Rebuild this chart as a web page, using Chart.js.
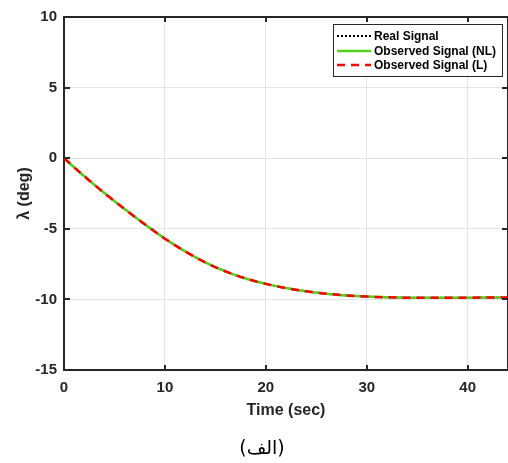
<!DOCTYPE html>
<html>
<head>
<meta charset="utf-8">
<script src="https://cdn.jsdelivr.net/npm/chart.js@4/dist/chart.umd.min.js"></script>
<style>
html,body{margin:0;padding:0;background:#fff;}
#wrap{position:relative;width:508px;height:463px;}
</style>
</head>
<body>
<div id="wrap"><canvas id="c" width="508" height="463"></canvas></div>
<script>
const time = [0,2,4,6,8,10,12,14,16,18,20,22,24,26,28,30,32,34,36,38,40,42,44];
const realSignal = [0,-1.27,-2.47,-3.6,-4.68,-5.7,-6.6,-7.38,-8.02,-8.52,-8.9,-9.2,-9.43,-9.6,-9.72,-9.8,-9.85,-9.88,-9.89,-9.89,-9.88,-9.87,-9.86];
const observedNL = [0,-1.27,-2.47,-3.6,-4.68,-5.7,-6.6,-7.38,-8.02,-8.52,-8.9,-9.2,-9.43,-9.6,-9.72,-9.8,-9.85,-9.88,-9.89,-9.89,-9.88,-9.87,-9.86];
const observedL = [0,-1.27,-2.47,-3.6,-4.68,-5.7,-6.6,-7.38,-8.02,-8.52,-8.9,-9.2,-9.43,-9.6,-9.72,-9.8,-9.85,-9.88,-9.89,-9.89,-9.88,-9.87,-9.86];
const seriesNames = ['Real Signal','Observed Signal (NL)','Observed Signal (L)'];
const xTicks = [0,10,20,30,40];
const yTicks = [-15,-10,-5,0,5,10];
const xTitle = 'Time (sec)';
const yTitle = 'λ (deg)';
const caption = '(الف)';

const toXY = arr => arr.map((v,i)=>({x:time[i], y:v}));
const FONT = '"Liberation Sans", Arial, sans-serif';

const extras = {
  id:'extras',
  afterDraw(chart){
    const ctx = chart.ctx;
    const ca = chart.chartArea;
    const xs = chart.scales.x, ys = chart.scales.y;
    ctx.save();
    // top and right box lines
    ctx.strokeStyle = '#262626';
    ctx.lineWidth = 2;
    ctx.beginPath();
    ctx.moveTo(ca.left, ca.top); ctx.lineTo(ca.right, ca.top);
    ctx.moveTo(ca.right, ca.top); ctx.lineTo(ca.right, ca.bottom);
    ctx.stroke();
    // inward ticks
    ctx.lineWidth = 2;
    ctx.beginPath();
    xTicks.forEach(v=>{
      const px = Math.round(xs.getPixelForValue(v));
      ctx.moveTo(px, ca.bottom); ctx.lineTo(px, ca.bottom-5);
      ctx.moveTo(px, ca.top); ctx.lineTo(px, ca.top+5);
    });
    yTicks.forEach(v=>{
      const py = Math.round(ys.getPixelForValue(v));
      ctx.moveTo(ca.left, py); ctx.lineTo(ca.left+6, py);
      ctx.moveTo(ca.right, py); ctx.lineTo(ca.right-6, py);
    });
    ctx.stroke();
    // legend
    const lx = 333, ly = 24, lw = 169, lh = 52;
    ctx.fillStyle = '#fff';
    ctx.fillRect(lx, ly, lw, lh);
    ctx.strokeStyle = '#262626';
    ctx.lineWidth = 1;
    ctx.strokeRect(lx+0.5, ly+0.5, lw, lh);
    const rows = [36, 51, 65];
    const ds = chart.data.datasets;
    ctx.font = 'bold 12px ' + FONT;
    ctx.textBaseline = 'middle';
    ctx.textAlign = 'left';
    rows.forEach((ry,i)=>{
      const d = ds[i];
      ctx.strokeStyle = d.borderColor;
      ctx.lineWidth = d.borderWidth;
      ctx.setLineDash(d.borderDash || []);
      ctx.beginPath();
      ctx.moveTo(337, ry); ctx.lineTo(371, ry);
      ctx.stroke();
      ctx.setLineDash([]);
      ctx.fillStyle = '#000';
      ctx.fillText(seriesNames[i], 374, ry+0.5);
    });
    // caption
    ctx.font = '19px "DejaVu Sans", sans-serif';
    ctx.fillStyle = '#000';
    ctx.textAlign = 'center';
    ctx.textBaseline = 'middle';
    ctx.fillText(caption, 262, 449);
    ctx.restore();
  }
};

new Chart(document.getElementById('c'), {
  type:'line',
  data:{
    datasets:[
      {label:seriesNames[0], data:toXY(realSignal), borderColor:'#000000', borderWidth:2, borderDash:[2,2], pointRadius:0, cubicInterpolationMode:'monotone', order:3},
      {label:seriesNames[1], data:toXY(observedNL), borderColor:'#55d11a', borderWidth:2.5, pointRadius:0, cubicInterpolationMode:'monotone', order:2},
      {label:seriesNames[2], data:toXY(observedL), borderColor:'#ff0000', borderWidth:2.5, borderDash:[8,6], pointRadius:0, cubicInterpolationMode:'monotone', order:1}
    ]
  },
  options:{
    responsive:false,
    animation:false,
    devicePixelRatio:1,
    layout:{padding:{top:17,left:0,right:0,bottom:40}},
    plugins:{legend:{display:false}, tooltip:{enabled:false}},
    scales:{
      x:{
        type:'linear', min:0, max:44,
        afterFit(s){ s.height = 53; },
        afterBuildTicks(s){ s.ticks = xTicks.map(v=>({value:v})); },
        ticks:{stepSize:10, includeBounds:false, padding:9, color:'#262626', font:{family:FONT, size:15, weight:'bold'}, maxRotation:0},
        grid:{color:'#e3e3e3', lineWidth:1, drawTicks:false},
        border:{color:'#262626', width:2},
        title:{display:true, text:xTitle, color:'#262626', font:{family:FONT, size:16, weight:'bold'}, padding:{top:0,bottom:3}}
      },
      y:{
        type:'linear', min:-15, max:10,
        afterFit(s){ s.width = 64; },
        afterBuildTicks(s){ s.ticks = yTicks.map(v=>({value:v})); },
        ticks:{stepSize:5, padding:7, color:'#262626', font:{family:FONT, size:15, weight:'bold'}},
        grid:{color:'#e3e3e3', lineWidth:1, drawTicks:false},
        border:{color:'#262626', width:2},
        title:{display:true, text:yTitle, color:'#262626', font:{family:FONT, size:16, weight:'bold'}, padding:{top:15,bottom:0}}
      }
    }
  },
  plugins:[extras]
});
</script>
</body>
</html>
